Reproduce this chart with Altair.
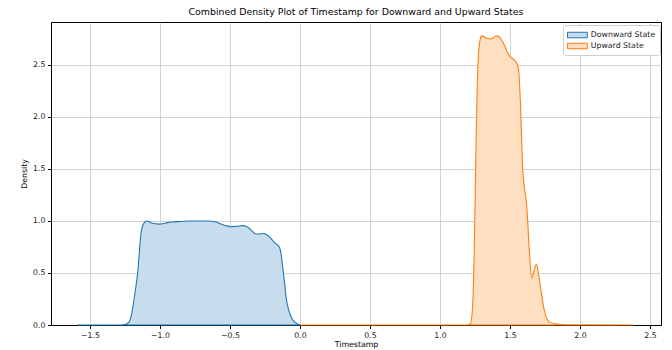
import altair as alt
import pandas as pd

# Downward State density
down_x = [-1.59, -1.30, -1.25, -1.22, -1.207, -1.18, -1.16, -1.136, -1.115, -1.093, -1.06, -1.005,
          -0.96, -0.92, -0.85, -0.78, -0.70, -0.66, -0.60, -0.564, -0.53, -0.493, -0.45, -0.41,
          -0.385, -0.364, -0.34, -0.314, -0.29, -0.26, -0.24, -0.22, -0.20, -0.18, -0.148, -0.135,
          -0.124, -0.11, -0.10, -0.08, -0.064, -0.04, -0.016, 0.0]
down_y = [0, 0, 0.005, 0.03, 0.08, 0.3, 0.5, 0.88, 0.98, 1.0, 0.98, 0.97,
          0.98, 0.99, 0.995, 1.0, 1.0, 1.0, 0.99, 0.97, 0.955, 0.945, 0.95, 0.955,
          0.95, 0.93, 0.9, 0.875, 0.875, 0.88, 0.87, 0.85, 0.82, 0.79, 0.75, 0.68,
          0.56, 0.4, 0.27, 0.14, 0.08, 0.03, 0.01, 0.0]

# Upward State density
up_x = [0.0, 1.19, 1.217, 1.233, 1.245, 1.257, 1.264, 1.275, 1.29, 1.298, 1.33, 1.364,
        1.39, 1.407, 1.43, 1.448, 1.47, 1.484, 1.51, 1.543, 1.56, 1.574, 1.59, 1.605,
        1.62, 1.638, 1.655, 1.672, 1.69, 1.705, 1.717, 1.745, 1.78, 1.83, 1.9, 2.38]
up_y = [0, 0, 0.01, 0.18, 0.72, 1.68, 2.16, 2.6, 2.76, 2.78, 2.76, 2.75,
        2.77, 2.78, 2.76, 2.72, 2.66, 2.61, 2.57, 2.53, 2.47, 2.16, 1.52, 1.3,
        1.14, 0.72, 0.45, 0.52, 0.587, 0.48, 0.37, 0.14, 0.03, 0.01, 0.003, 0]

states = ["Downward State", "Upward State"]
line_colors = ["#1f77b4", "#ff7f0e"]
fill_colors = ["#c7dded", "#ffdfc2"]
x_ticks = [-1.5, -1.0, -0.5, 0.0, 0.5, 1.0, 1.5, 2.0, 2.5]
y_ticks = [0.0, 0.5, 1.0, 1.5, 2.0, 2.5]

df = pd.concat([
    pd.DataFrame({"Timestamp": down_x, "Density": down_y, "State": states[0]}),
    pd.DataFrame({"Timestamp": up_x, "Density": up_y, "State": states[1]}),
])

font = "DejaVu Sans"
xs = alt.Scale(domain=[-1.779, 2.579], nice=False, zero=False)
ys = alt.Scale(domain=[0, 2.913], nice=False)

rect_path = "M-1,-0.5L2.6,-0.5L2.6,0.5L-1,0.5Z"


def make_legend():
    return alt.Legend(title=None, orient="none", legendX=512, legendY=3,
                      symbolType=rect_path, symbolSize=121, symbolStrokeWidth=1,
                      labelFont=font, labelFontSize=7.8, labelColor="#222",
                      labelOffset=11.8, padding=4, rowPadding=0,
                      strokeColor="#d0d0d0", fillColor="white", cornerRadius=2)


area = alt.Chart(df).mark_area(interpolate="monotone", strokeWidth=1.1).encode(
    x=alt.X("Timestamp:Q", scale=xs,
            axis=alt.Axis(values=x_ticks, format=".1f", title="Timestamp")),
    y=alt.Y("Density:Q", scale=ys, stack=None,
            axis=alt.Axis(values=y_ticks, format=".1f", title="Density")),
    fill=alt.Fill("State:N", scale=alt.Scale(domain=states, range=fill_colors),
                  legend=make_legend()),
    stroke=alt.Stroke("State:N", scale=alt.Scale(domain=states, range=line_colors),
                      legend=make_legend()),
)

chart = area.properties(
    width=610, height=303,
    title=alt.Title("Combined Density Plot of Timestamp for Downward and Upward States",
                    font=font, fontSize=9.4, fontWeight="normal", color="black",
                    offset=5, anchor="middle"),
    autosize=alt.AutoSizeParams(type="none"),
    padding={"left": 51, "top": 22, "right": 11, "bottom": 25},
).configure_view(
    stroke="black", strokeWidth=1
).configure_axis(
    labelFont=font, labelFontSize=7.8, labelColor="#222",
    titleFont=font, titleFontSize=7.8, titleFontWeight="normal", titleColor="black",
    domainColor="black", tickColor="black", tickSize=3.5, labelPadding=2.5,
    gridColor="#b0b0b0", gridOpacity=0.7, gridWidth=0.8,
).configure_axisX(titlePadding=2).configure_axisY(titlePadding=4)

chart.save("out.html", embed_options={"renderer": "svg", "actions": False})
